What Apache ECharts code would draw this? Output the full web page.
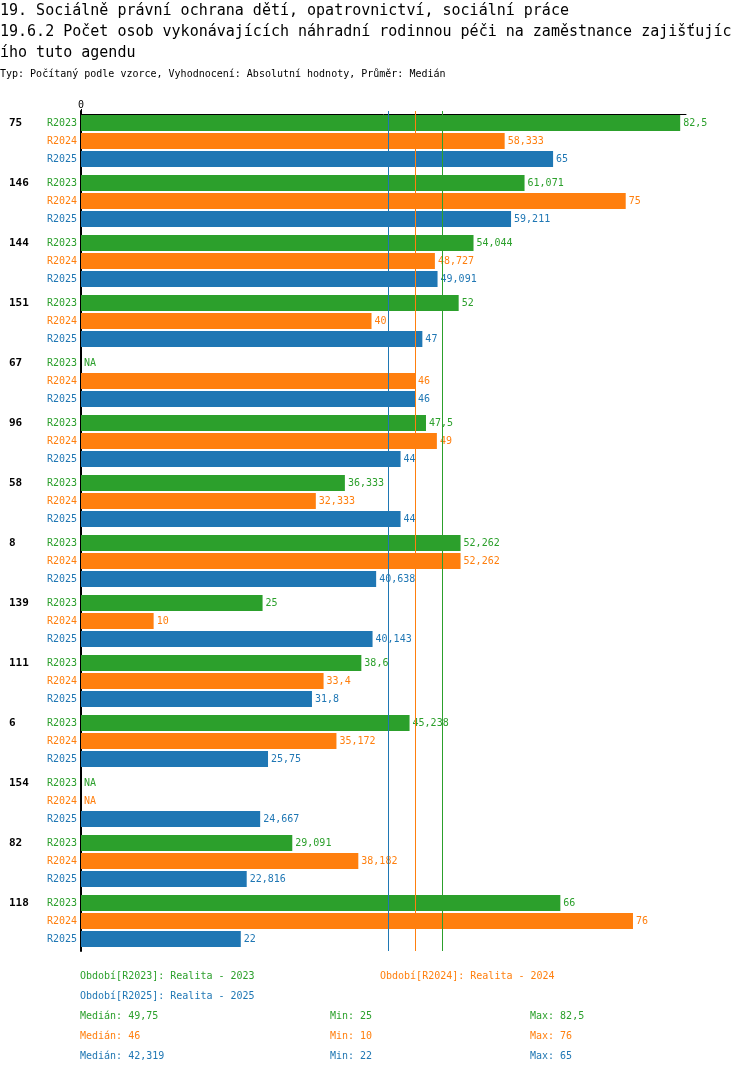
<!DOCTYPE html>
<html>
<head>
<meta charset="utf-8">
<script src="https://cdn.jsdelivr.net/npm/echarts@6/dist/echarts.min.js"></script>
<style>html,body{margin:0;padding:0;background:#fff}#c{width:750px;height:1074px}</style>
</head>
<body>
<div id="c"></div>
<script>
const categories = ['75','146','144','151','67','96','58','8','139','111','6','154','82','118'];
const r2023 = [82.5, 61.071, 54.044, 52, null, 47.5, 36.333, 52.262, 25, 38.6, 45.238, null, 29.091, 66];
const r2024 = [58.333, 75, 48.727, 40, 46, 49, 32.333, 52.262, 10, 33.4, 35.172, null, 38.182, 76];
const r2025 = [65, 59.211, 49.091, 47, 46, 44, 44, 40.638, 40.143, 31.8, 25.75, 24.667, 22.816, 22];
const seriesNames = ['R2023', 'R2024', 'R2025'];
const periodLabels = ['Období[R2023]: Realita - 2023', 'Období[R2024]: Realita - 2024', 'Období[R2025]: Realita - 2025'];
const titleLines = ['19. Sociálně právní ochrana dětí, opatrovnictví, sociální práce',
  '19.6.2 Počet osob vykonávajících náhradní rodinnou péči na zaměstnance zajišťujíc',
  'ího tuto agendu'];
const subtitleText = 'Typ: Počítaný podle vzorce, Vyhodnocení: Absolutní hodnoty, Průměr: Medián';
const colors = ['#2ca02c', '#ff7f0e', '#1f77b4'];

const FONT = 'DejaVu Sans Mono';
const allData = [r2023, r2024, r2025];
function fmt(v) { return String(Number(v.toFixed(3))).replace('.', ','); }
function median(arr) {
  const a = arr.filter(v => v !== null).sort((x, y) => x - y);
  const n = a.length;
  return n % 2 ? a[(n - 1) / 2] : (a[n / 2 - 1] + a[n / 2]) / 2;
}
const stats = allData.map(a => {
  const f = a.filter(v => v !== null);
  return { med: median(a), min: Math.min(...f), max: Math.max(...f) };
});

const chart = echarts.init(document.getElementById('c'), null, { renderer: 'canvas' });

const series = allData.map((arr, si) => ({
  name: seriesNames[si],
  type: 'bar',
  barWidth: 16,
  barGap: '12.5%',
  itemStyle: { color: colors[si] },
  data: arr.map(v => v === null ? 0 : v),
  label: {
    show: true, position: 'right', distance: 3,
    fontFamily: FONT, fontSize: 10, color: colors[si],
    formatter: p => arr[p.dataIndex] === null ? 'NA' : fmt(arr[p.dataIndex])
  },
  z: 2
}));
series[2].markLine = {
  silent: true, symbol: 'none', label: { show: false }, z: 5,
  emphasis: { disabled: true },
  data: stats.map((s, i) => ({ xAxis: s.med, lineStyle: { color: colors[i], width: 1, type: 'solid', opacity: 1 } }))
};

const graphics = [];
function addText(x, y, text, color) {
  graphics.push({ type: 'text', left: x, top: y - 4, style: { text: text, fill: color, font: '10px "' + FONT + '"' } });
}
addText(80, 975, periodLabels[0], colors[0]);
addText(380, 975, periodLabels[1], colors[1]);
addText(80, 995, periodLabels[2], colors[2]);
stats.forEach((s, i) => {
  const y = 1015 + i * 20;
  addText(80, y, 'Medián: ' + fmt(s.med), colors[i]);
  addText(330, y, 'Min: ' + fmt(s.min), colors[i]);
  addText(530, y, 'Max: ' + fmt(s.max), colors[i]);
});

const option = {
  animation: false,
  backgroundColor: '#fff',
  title: [
    { text: titleLines.join('\n'), left: 0, top: 1, padding: 0,
      textStyle: { fontFamily: FONT, fontSize: 15, fontWeight: 'normal', color: '#000', lineHeight: 21 } },
    { text: subtitleText, left: 0, top: 69, padding: 0,
      textStyle: { fontFamily: FONT, fontSize: 10, fontWeight: 'normal', color: '#000' } }
  ],
  grid: { left: 81, right: 64, top: 111, height: 840, containLabel: false },
  xAxis: {
    type: 'value', position: 'top', min: 0, max: 83.3, interval: 100, offset: -3,
    axisLine: { show: true, onZero: false, lineStyle: { color: '#000', width: 1 } },
    axisTick: { show: true, length: 5, lineStyle: { color: '#000' } },
    splitLine: { show: false },
    axisLabel: { show: true, showMaxLabel: false, margin: 4, fontFamily: FONT, fontSize: 10, color: '#000',
      formatter: v => v === 0 ? '0' : '' }
  },
  yAxis: {
    type: 'category', inverse: true, data: categories,
    axisLine: { show: true, lineStyle: { color: '#000', width: 2 } },
    axisTick: { show: false },
    axisLabel: {
      margin: 4, align: 'right', interval: 0,
      formatter: v => '{n|' + v + '}{g|R2023}\n{s| }{o|R2024}\n{s| }{b|R2025}',
      rich: {
        n: { fontFamily: FONT, fontSize: 11, fontWeight: 'bold', color: '#000', width: 38, align: 'left', lineHeight: 18 },
        s: { fontFamily: FONT, fontSize: 10, width: 38, lineHeight: 18 },
        g: { fontFamily: FONT, fontSize: 10, color: colors[0], lineHeight: 18 },
        o: { fontFamily: FONT, fontSize: 10, color: colors[1], lineHeight: 18 },
        b: { fontFamily: FONT, fontSize: 10, color: colors[2], lineHeight: 18 }
      }
    }
  },
  series: series,
  graphic: graphics
};
chart.setOption(option);
</script>
</body>
</html>
